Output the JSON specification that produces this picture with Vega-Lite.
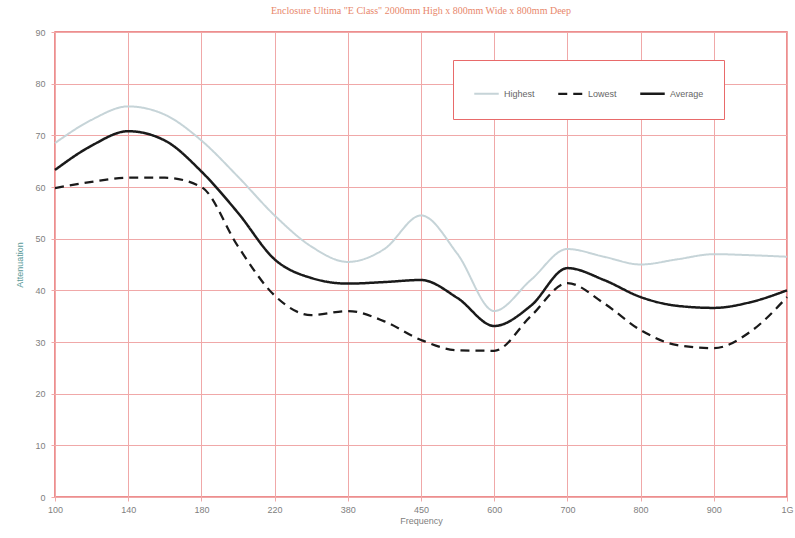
{
  "$schema": "https://vega.github.io/schema/vega-lite/v6.json",
  "width": 732,
  "height": 465,
  "autosize": {"type": "none"},
  "padding": {"left": 55, "top": 32, "right": 8, "bottom": 41},
  "background": "white",
  "title": {
    "text": "Enclosure Ultima \"E Class\" 2000mm High x 800mm Wide x 800mm Deep",
    "fontSize": 10,
    "font": "Liberation Serif",
    "fontWeight": "normal",
    "color": "#e8876c",
    "offset": 12
  },
  "config": {
    "view": {"stroke": "#e86a6a", "strokeWidth": 1.5},
    "axis": {
      "gridColor": "#f0a8a8",
      "gridOpacity": 1,
      "gridWidth": 1,
      "domain": false,
      "tickColor": "#f0a8a8",
      "tickSize": 4,
      "labelColor": "#808080",
      "labelFontSize": 9,
      "labelFont": "Liberation Sans",
      "titleFont": "Liberation Sans",
      "titleFontSize": 9,
      "titleFontWeight": "normal"
    }
  },
  "data": {
    "values": [
      {"pos": 0, "series": "Highest", "value": 68.5},
      {"pos": 0.5, "series": "Highest", "value": 73},
      {"pos": 1, "series": "Highest", "value": 75.6},
      {"pos": 1.5, "series": "Highest", "value": 74},
      {"pos": 2, "series": "Highest", "value": 69},
      {"pos": 2.5, "series": "Highest", "value": 62},
      {"pos": 3, "series": "Highest", "value": 54.5},
      {"pos": 3.5, "series": "Highest", "value": 48.5},
      {"pos": 4, "series": "Highest", "value": 45.5},
      {"pos": 4.5, "series": "Highest", "value": 48},
      {"pos": 5, "series": "Highest", "value": 54.5},
      {"pos": 5.5, "series": "Highest", "value": 47},
      {"pos": 6, "series": "Highest", "value": 36},
      {"pos": 6.5, "series": "Highest", "value": 42},
      {"pos": 7, "series": "Highest", "value": 48},
      {"pos": 7.5, "series": "Highest", "value": 46.5},
      {"pos": 8, "series": "Highest", "value": 45},
      {"pos": 8.5, "series": "Highest", "value": 46},
      {"pos": 9, "series": "Highest", "value": 47},
      {"pos": 9.5, "series": "Highest", "value": 46.8},
      {"pos": 10, "series": "Highest", "value": 46.5},
      {"pos": 0, "series": "Lowest", "value": 59.8},
      {"pos": 0.5, "series": "Lowest", "value": 61},
      {"pos": 1, "series": "Lowest", "value": 61.8},
      {"pos": 1.5, "series": "Lowest", "value": 61.8},
      {"pos": 2, "series": "Lowest", "value": 60},
      {"pos": 2.5, "series": "Lowest", "value": 48.5},
      {"pos": 3, "series": "Lowest", "value": 39},
      {"pos": 3.5, "series": "Lowest", "value": 35.2},
      {"pos": 4, "series": "Lowest", "value": 36},
      {"pos": 4.5, "series": "Lowest", "value": 34},
      {"pos": 5, "series": "Lowest", "value": 30.4},
      {"pos": 5.5, "series": "Lowest", "value": 28.4},
      {"pos": 6, "series": "Lowest", "value": 28.3},
      {"pos": 6.5, "series": "Lowest", "value": 35},
      {"pos": 7, "series": "Lowest", "value": 41.4},
      {"pos": 7.5, "series": "Lowest", "value": 37.5},
      {"pos": 8, "series": "Lowest", "value": 32.3},
      {"pos": 8.5, "series": "Lowest", "value": 29.4},
      {"pos": 9, "series": "Lowest", "value": 28.8},
      {"pos": 9.5, "series": "Lowest", "value": 32},
      {"pos": 10, "series": "Lowest", "value": 38.7},
      {"pos": 0, "series": "Average", "value": 63.3},
      {"pos": 0.5, "series": "Average", "value": 68},
      {"pos": 1, "series": "Average", "value": 70.8},
      {"pos": 1.5, "series": "Average", "value": 69},
      {"pos": 2, "series": "Average", "value": 63},
      {"pos": 2.5, "series": "Average", "value": 55},
      {"pos": 3, "series": "Average", "value": 46},
      {"pos": 3.5, "series": "Average", "value": 42.4},
      {"pos": 4, "series": "Average", "value": 41.3},
      {"pos": 4.5, "series": "Average", "value": 41.6},
      {"pos": 5, "series": "Average", "value": 42},
      {"pos": 5.5, "series": "Average", "value": 38.5},
      {"pos": 6, "series": "Average", "value": 33.1},
      {"pos": 6.5, "series": "Average", "value": 37},
      {"pos": 7, "series": "Average", "value": 44.3},
      {"pos": 7.5, "series": "Average", "value": 42},
      {"pos": 8, "series": "Average", "value": 38.7},
      {"pos": 8.5, "series": "Average", "value": 37},
      {"pos": 9, "series": "Average", "value": 36.6},
      {"pos": 9.5, "series": "Average", "value": 37.7},
      {"pos": 10, "series": "Average", "value": 40}
    ]
  },
  "mark": {"type": "line", "interpolate": "monotone"},
  "encoding": {
    "x": {
      "field": "pos",
      "type": "quantitative",
      "scale": {"domain": [0, 10], "nice": false, "zero": false},
      "axis": {
        "title": "Frequency",
        "titleColor": "#808080",
        "titlePadding": 2,
        "gridColor": "#f0a8a8",
        "values": [0, 1, 2, 3, 4, 5, 6, 7, 8, 9, 10],
        "labelExpr": "['100','140','180','220','380','450','600','700','800','900','1G'][datum.value]",
        "labelFlush": false,
        "labelPadding": 4
      }
    },
    "y": {
      "field": "value",
      "type": "quantitative",
      "scale": {"domain": [0, 90], "nice": false},
      "axis": {
        "title": "Attenuation",
        "titleColor": "#5a9a98",
        "titlePadding": 10,
        "gridColor": "#f0a8a8",
        "values": [0, 10, 20, 30, 40, 50, 60, 70, 80, 90],
        "labelPadding": 6
      }
    },
    "color": {
      "field": "series",
      "type": "nominal",
      "sort": ["Highest", "Lowest", "Average"],
      "scale": {"domain": ["Highest", "Lowest", "Average"], "range": ["#c6d4d8", "#1a1a1a", "#1a1a1a"]},
      "legend": {
        "title": null,
        "orient": "none",
        "legendX": 398,
        "legendY": 28,
        "direction": "horizontal",
        "symbolType": "stroke",
        "symbolSize": 600,
        "fillColor": "white",
        "strokeColor": "#e86a6a",
        "padding": 20,
        "columnPadding": 18,
        "labelColor": "#666666",
        "labelFontSize": 9,
        "labelFont": "Liberation Sans"
      }
    },
    "strokeDash": {
      "field": "series",
      "type": "nominal",
      "sort": ["Highest", "Lowest", "Average"],
      "scale": {"domain": ["Highest", "Lowest", "Average"], "range": [[1, 0], [9, 6], [1, 0]]},
      "legend": null
    },
    "strokeWidth": {
      "field": "series",
      "type": "nominal",
      "sort": ["Highest", "Lowest", "Average"],
      "scale": {"domain": ["Highest", "Lowest", "Average"], "range": [2, 2.5, 3.5]},
      "legend": null
    }
  }
}
